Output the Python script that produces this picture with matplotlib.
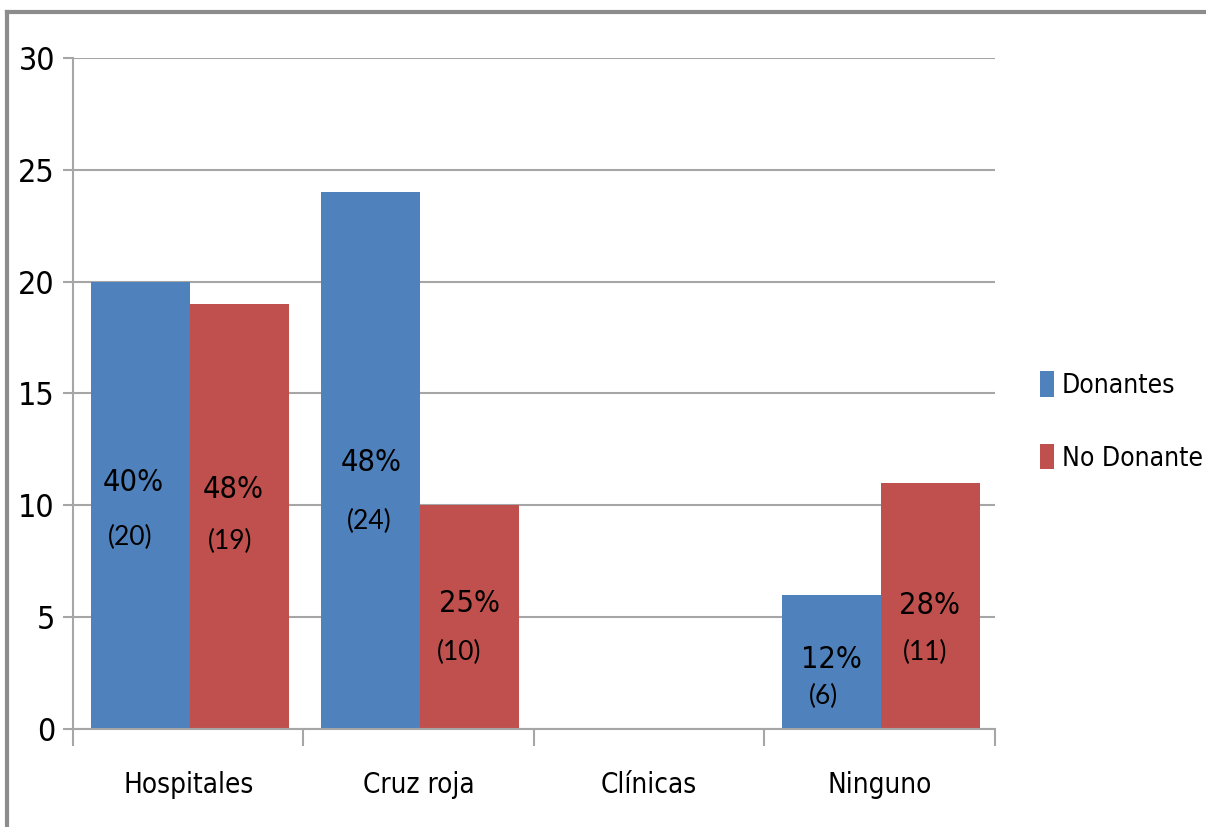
import matplotlib.pyplot as plt
from matplotlib.lines import Line2D
from matplotlib import font_manager
import numpy as np

# datos
categorias = ['Hospitales', 'Cruz roja', 'Clínicas', 'Ninguno']
donantes = [20, 24, 0, 6]
no_donante = [19, 10, 0, 11]
pct_donantes = ['40%', '48%', '', '12%']
pct_no_donante = ['48%', '25%', '', '28%']
y_ticks = [0, 5, 10, 15, 20, 25, 30]

azul = '#4F81BD'
rojo = '#C0504D'
gris = '#A6A6A6'

# buscar una letra estrecha (parecida a Calibri)
nombres = set(f.name for f in font_manager.fontManager.ttflist)
condensada = [f for f in font_manager.fontManager.ttflist
              if f.name == 'DejaVu Sans' and 'Condensed' in f.fname and 'Bold' not in f.fname
              and 'Oblique' not in f.fname]
if 'Liberation Sans Narrow' in nombres:
    FUENTE = dict(family='Liberation Sans Narrow')
elif condensada:
    FUENTE = dict(family='DejaVu Sans', stretch='condensed')
else:
    FUENTE = dict(family='Lato')


def etiquetas(ax, xs, pcts, vals, dx, y_pct, y_num):
    # porcentaje arriba, (n) abajo
    for x, p, v, d, yp, yn in zip(xs, pcts, vals, dx, y_pct, y_num):
        if not p:
            continue
        ax.text(x + d[0], yp, p, ha='center', va='center', fontsize=22,
                color='black', **FUENTE)
        ax.text(x + d[1], yn, '(%d)' % v, ha='center', va='center',
                fontsize=19, family='Lato', color='black')


def main():
    fig = plt.figure(figsize=(12.06, 8.27), dpi=100)
    ax = fig.add_axes([0.0605, 0.1185, 0.7645, 0.8114])

    x = np.arange(len(categorias))
    ancho = 0.43
    xb = x - ancho / 2 + 0.007
    xr = x + ancho / 2 + 0.007
    ax.bar(xb, donantes, ancho, color=azul, label='Donantes', zorder=2)
    ax.bar(xr, no_donante, ancho, color=rojo, label='No Donante', zorder=2)

    etiquetas(ax, xb, pct_donantes, donantes,
              [(-0.03, -0.045), (0.0, -0.005), (0, 0), (0.0, -0.035)],
              [11.0, 11.9, 0, 3.1], [8.55, 9.3, 0, 1.45])
    etiquetas(ax, xr, pct_no_donante, no_donante,
              [(-0.025, -0.04), (0.0, -0.045), (0, 0), (-0.005, -0.025)],
              [10.7, 5.6, 0, 5.5], [8.4, 3.4, 0, 3.4])

    ax.set_xlim(-0.5, 3.5)
    ax.set_ylim(0, 30)
    ax.set_yticks(y_ticks)
    ax.yaxis.grid(True, color=gris, linewidth=1.5, zorder=0)
    ax.set_axisbelow(True)
    ax.set_yticklabels([str(t) for t in y_ticks], fontsize=23, **FUENTE)
    ax.tick_params(axis='y', length=7, width=1.5, color=gris, pad=6)

    # ticks entre categorias, etiquetas en el centro
    ax.set_xticks(np.arange(-0.5, 4, 1))
    ax.set_xticklabels([])
    ax.set_xticks(x, minor=True)
    ax.set_xticklabels(categorias, minor=True, fontsize=20, **FUENTE)
    ax.tick_params(axis='x', which='major', length=12, width=1.5, color=gris)
    ax.tick_params(axis='x', which='minor', length=0, pad=30)

    for s in ['top', 'right']:
        ax.spines[s].set_visible(False)
    for s in ['left', 'bottom']:
        ax.spines[s].set_color(gris)
        ax.spines[s].set_linewidth(1.5)

    fig.legend(loc='center left', bbox_to_anchor=(0.843, 0.4903),
               frameon=False, prop=dict(size=19, **FUENTE),
               handlelength=0.5, handleheight=1.1, handletextpad=0.3,
               labelspacing=1.7)

    # marco gris del grafico
    fig.add_artist(Line2D([7 / 1206, 1], [1 - 12 / 827, 1 - 12 / 827],
                          color='#8C8C8C', linewidth=3, transform=fig.transFigure))
    fig.add_artist(Line2D([7 / 1206, 7 / 1206], [0, 1 - 12 / 827],
                          color='#8C8C8C', linewidth=3, transform=fig.transFigure))

    fig.savefig('out.png', dpi=100)


main()
